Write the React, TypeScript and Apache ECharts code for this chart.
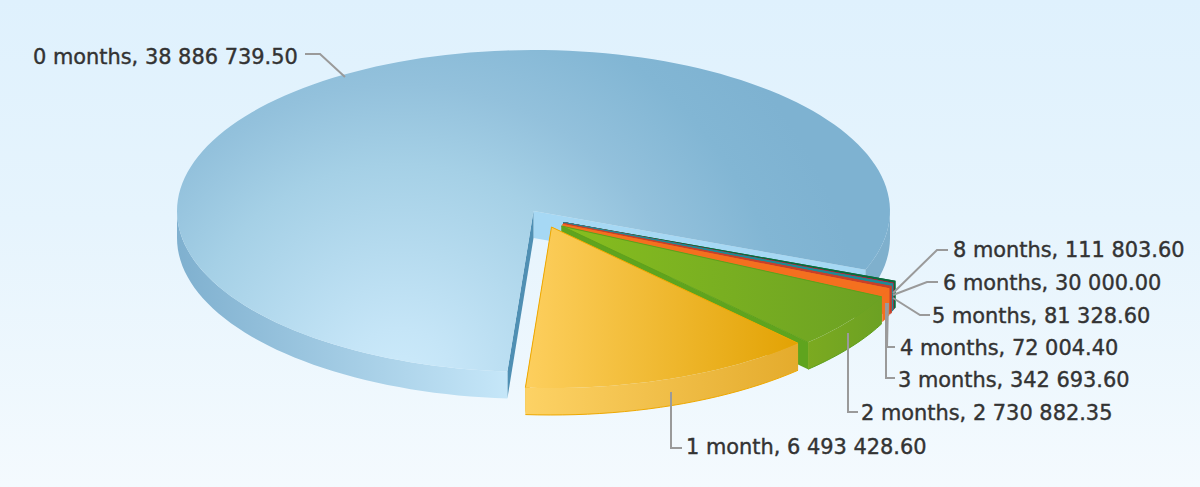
import React, { useEffect, useRef } from "react";
import * as echarts from "echarts";

const months = ["0 months", "8 months", "6 months", "5 months", "4 months", "3 months", "2 months", "1 month"];
const amounts = [38886739.5, 111803.6, 30000.0, 81328.6, 72004.4, 342693.6, 2730882.35, 6493428.6];
const amountLabels = ["38 886 739.50", "111 803.60", "30 000.00", "81 328.60", "72 004.40", "342 693.60", "2 730 882.35", "6 493 428.60"];

const RX = 356.5, RY = 161, DEPTH = 27, CX = 533.5, CY = 211;
const START_DEG = 94.2;
const W = 1200, H = 487;

// explode offset per slice
const offsets: number[][] = [[0, 0], [30, 11], [30, 11], [30, 11], [30, 12], [29, 13], [28, 15], [18, 16]];

type Look = { top: any; wall: any; face: string; stroke: string };
const hgrad = (x0: number, x1: number, a: string, b: string) => ({
  type: "linear", x: x0, y: 0, x2: x1, y2: 0, global: true,
  colorStops: [{ offset: 0, color: a }, { offset: 1, color: b }],
});
const looks: Look[] = [
  {
    top: {
      type: "radial", x: 400, y: 385, r: 470, global: true,
      colorStops: [
        { offset: 0, color: "#cdebfb" },
        { offset: 0.12, color: "#c5e5f7" },
        { offset: 0.47, color: "#a5d0e6" },
        { offset: 0.64, color: "#93c1dc" },
        { offset: 0.84, color: "#82b6d4" },
        { offset: 1, color: "#7eb2d1" },
      ],
    },
    wall: hgrad(177, 510, "#7fb0cf", "#c6e7f9"),
    face: "#a6d8f4",
    stroke: "none",
  },
  { top: "#0a6b3c", wall: "#0a6b3c", face: "#0a6b3c", stroke: "none" },
  { top: "#c2203f", wall: "#c2203f", face: "#c2203f", stroke: "none" },
  { top: "#1e8a96", wall: "#1e8a96", face: "#1e8a96", stroke: "none" },
  { top: "#c8402a", wall: "#c8402a", face: "#c8402a", stroke: "none" },
  { top: "#f4701f", wall: "#f4701f", face: "#f4701f", stroke: "none" },
  {
    top: hgrad(565, 880, "#86bd1f", "#6ca123"),
    wall: hgrad(800, 880, "#7dab20", "#6ca123"),
    face: "#5fa41e",
    stroke: "#5fa01c",
  },
  {
    top: hgrad(525, 800, "#fdcf5e", "#e2a203"),
    wall: hgrad(525, 800, "#fdd265", "#e4ab2c"),
    face: "#eba900",
    stroke: "#eea800",
  },
];

const labelSpots: { text: number[]; line: number[][] }[] = [
  { text: [33, 57], line: [[305, 54], [320, 54], [345, 77]] },
  { text: [953, 250], line: [[893, 293], [937, 250], [948, 250]] },
  { text: [943, 283], line: [[893, 295], [927, 282], [938, 282]] },
  { text: [932, 316], line: [[893, 298], [920, 315], [930, 315]] },
  { text: [900, 348], line: [[888, 303], [887, 347], [895, 347]] },
  { text: [898, 380], line: [[886, 303], [886, 378], [895, 378]] },
  { text: [861, 413], line: [[848, 333], [848, 412], [858, 412]] },
  { text: [686, 447], line: [[671, 392], [671, 448], [682, 448]] },
];

const total = amounts.reduce((a, b) => a + b, 0);
const startAngles: number[] = [];
amounts.reduce((acc, v) => {
  startAngles.push(acc);
  return acc + (v / total) * 360;
}, START_DEG);

const rad = (d: number) => (d * Math.PI) / 180;

function arcPoints(cx: number, cy: number, a: number, b: number): number[][] {
  const n = Math.max(2, Math.ceil(Math.abs(b - a) / 2));
  const pts: number[][] = [];
  for (let i = 0; i <= n; i++) {
    const t = rad(a + ((b - a) * i) / n);
    pts.push([cx + RX * Math.cos(t), cy + RY * Math.sin(t)]);
  }
  return pts;
}

function renderItem(params: any, api: any) {
  const i = params.dataIndex;
  const value = api.value(0);
  const a = startAngles[i];
  const b = a + (value / total) * 360;
  const [ox, oy] = offsets[i];
  const cx = CX + ox, cy = CY + oy;
  const look = looks[i];
  const children: any[] = [];
  const add = (pts: number[][], fill: any) =>
    children.push({
      type: "polygon",
      shape: { points: pts },
      style: { fill, stroke: "none", lineWidth: 0 },
      silent: true,
    });
  const edge = (pts: number[][]) => {
    if (look.stroke === "none") return;
    children.push({
      type: "polyline",
      shape: { points: pts },
      style: { fill: "none", stroke: look.stroke, lineWidth: 1 },
      silent: true,
    });
  };
  const tip = [cx, cy];
  const tipLow = [cx, cy + DEPTH];
  const pa = arcPoints(cx, cy, a, a)[0];
  const pb = arcPoints(cx, cy, b, b)[0];
  // cut faces
  add([tip, pb, [pb[0], pb[1] + DEPTH], tipLow], look.face);
  add([tip, pa, [pa[0], pa[1] + DEPTH], tipLow], i === 0 ? "#4f8fb3" : look.face);
  // outer walls, only the front half
  const ranges: number[][] = [];
  for (const [lo, hi] of [[0, 180], [360, 540]]) {
    const s = Math.max(a, lo), e = Math.min(b, hi);
    if (e > s) ranges.push([s, e]);
  }
  for (const [s, e] of ranges) {
    const top = arcPoints(cx, cy, s, e);
    const low = top.map((p) => [p[0], p[1] + DEPTH]);
    add(top.concat(low.slice().reverse()), i === 0 && s >= 360 ? "#7fb0cd" : look.wall);
    edge(low);
  }
  // top surface
  add([tip].concat(arcPoints(cx, cy, a, b)), look.top);
  edge([pa, tip, pb]);
  // leader and label
  const spot = labelSpots[i];
  children.push({
    type: "polyline",
    shape: { points: spot.line },
    style: { fill: "none", stroke: "#9a9a9a", lineWidth: 2 },
    silent: true,
    z2: 20,
  });
  children.push({
    type: "text",
    style: {
      x: spot.text[0],
      y: spot.text[1],
      text: months[i] + ", " + amountLabels[i],
      fill: "#333333",
      stroke: "#333333",
      lineWidth: 0.4,
      font: '20.9px "DejaVu Sans"',
      verticalAlign: "middle",
      align: "left",
    },
    silent: true,
    z2: 30,
  });
  return { type: "group", children };
}

export default function App() {
  const ref = useRef<HTMLDivElement>(null);
  useEffect(() => {
    const chart = echarts.init(ref.current!, null, { renderer: "svg" });
    chart.setOption({
      animation: false,
      series: [
        {
          type: "custom",
          coordinateSystem: "none",
          renderItem,
          data: amounts.map((v, i) => ({ name: months[i], value: [v] })),
          silent: true,
        },
      ],
    });
    return () => chart.dispose();
  }, []);
  return (
    <div
      ref={ref}
      style={{
        position: "absolute",
        left: 0,
        top: 0,
        width: W,
        height: H,
        background: "linear-gradient(180deg, #dff1fd 0%, #e6f4fd 45%, #f4fafe 100%)",
      }}
    />
  );
}
